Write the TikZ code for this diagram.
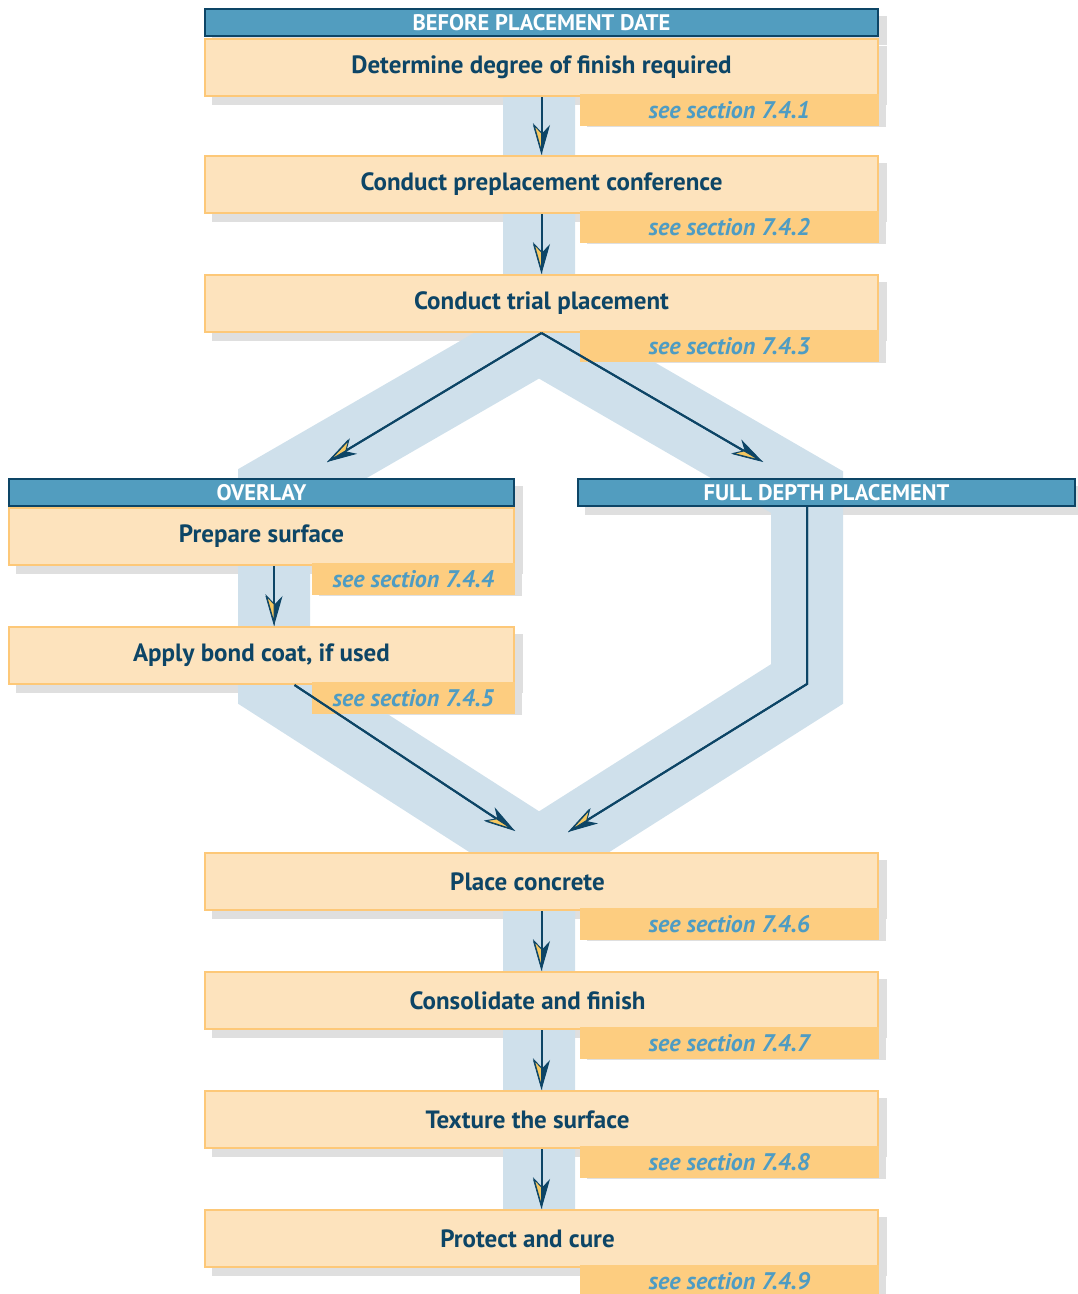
\documentclass[tikz,border=0pt]{standalone}
\usepackage{fontspec}
\setmainfont{PT Sans}
\usetikzlibrary{arrows.meta, positioning, calc}
\definecolor{colHead}{HTML}{529DBF}
\definecolor{colDark}{HTML}{0D4566}
\definecolor{colBox}{HTML}{FDE3BD}
\definecolor{colEdge}{HTML}{FDC878}
\definecolor{colTab}{HTML}{FDCD80}
\definecolor{colRef}{HTML}{4E9CC3}
\definecolor{colBand}{HTML}{CFE0EB}
\definecolor{colShade}{HTML}{DFDFDF}
\definecolor{colTip}{HTML}{F6C860}
\pgfdeclarelayer{shade}
\pgfdeclarelayer{band}
\pgfsetlayers{shade,band,main}

\begin{document}
\begin{tikzpicture}[x=1pt, y=-1pt,
    head/.style={draw=colDark, line width=2pt, fill=colHead, text=white, minimum height=27pt, inner sep=0pt, font=\fontsize{22.5}{22.5}\selectfont\bfseries},
    stepbox/.style={draw=colEdge, line width=2pt, fill=colBox, text=colDark, minimum height=57pt, inner sep=0pt, font=\fontsize{25}{25}\selectfont\bfseries},
    ref/.style={fill=colTab, text=colRef, minimum height=32pt, inner sep=0pt, font=\fontsize{24}{24}\selectfont\bfseries\itshape},
    lane/.style={draw=colBand, line width=72pt, line join=miter},
    flow/.style={draw=colDark, line width=2pt,
        -{Stealth[length=30pt, width=17pt, inset=9pt, line width=1pt, fill=colDark]},
        postaction={draw=colDark, -{Stealth[length=30pt, width=17pt, inset=9pt, line width=1pt, right, fill=colTip]}}}
]
    \useasboundingbox (0,0) rectangle (1077,1294);

    % main column: steps and their section tabs
    \foreach \n/\y/\t/\p/\s in {det/38/Determine degree of finish required/0/1,
        conf/155/Conduct preplacement conference/0/2,
        trial/274/Conduct trial placement/0/3,
        place/852/Place concrete/28/6,
        cons/971/Consolidate and finish/28/7,
        tex/1090/Texture the surface/28/8,
        cure/1209/Protect and cure/28/9} {
        \node[stepbox, minimum width=673pt, anchor=north west] (\n) at (204,\y) {\t\hspace*{\p pt}};
        \node[ref, minimum width=299pt, anchor=north east] (\n-ref) at ([yshift=3pt]\n.south east) {see section 7.4.\s};
    }
    \node[head, minimum width=673pt, anchor=north west] (before) at (204,8) {BEFORE PLACEMENT DATE};

    % overlay branch
    \node[stepbox, minimum width=505pt, anchor=north west] (prep) at (8,507) {Prepare surface};
    \node[ref, minimum width=203pt, anchor=north east] (prep-ref) at ([yshift=3pt]prep.south east) {see section 7.4.4};
    \node[stepbox, minimum width=505pt, anchor=north west] (bond) at (8,626) {Apply bond coat, if used};
    \node[ref, minimum width=203pt, anchor=north east] (bond-ref) at ([yshift=3pt]bond.south east) {see section 7.4.5};
    \node[head, minimum width=505pt, anchor=north west] (overlay) at (8,478) {OVERLAY};

    % full depth branch
    \node[head, minimum width=497pt, anchor=north west] (full) at (577,478) {FULL DEPTH PLACEMENT};

    % turning points of the lanes
    \coordinate (apex) at (539,337);
    \coordinate (bendL) at (274,490);
    \coordinate (turnL) at (274,684);
    \coordinate (bendR) at (807,492);
    \coordinate (turnR) at (807,684);
    \coordinate (meet) at (539,854);
    \coordinate (ovEnd) at (327,462);
    \coordinate (fdEnd) at (763,462);
    \coordinate (plEndL) at (515,831);
    \coordinate (plEndR) at (568,832);

    % shadows
    \begin{pgfonlayer}{shade}
        \foreach \n in {before,det,conf,trial,place,cons,tex,cure,overlay,prep,bond,full}
            \fill[colShade] ([shift={(8,8)}]\n.south west) rectangle ([shift={(8,8)}]\n.north east);
        \foreach \n in {det-ref,conf-ref,trial-ref,place-ref,cons-ref,tex-ref,cure-ref,prep-ref,bond-ref}
            \fill[colShade] ([shift={(7,1)}]\n.south west) rectangle ([shift={(7,1)}]\n.north east);
    \end{pgfonlayer}

    % light blue lanes
    \begin{pgfonlayer}{band}
        \draw[lane] (det.center -| apex) -- (apex) -- (bendL) -- (turnL) -- (meet) -- (cure.center -| meet);
        \draw[lane] (apex) -- (bendR) -- (turnR) -- (meet);
    \end{pgfonlayer}

    % arrows
    \draw[flow] (det) -- (conf);
    \draw[flow] (conf) -- (trial);
    \draw[flow] (trial.south) -- (ovEnd);
    \draw[flow] (trial.south) -- (fdEnd);
    \draw[flow] (prep.south -| turnL) -- (bond.north -| turnL);
    \draw[flow] ([xshift=33pt]bond.south) -- (plEndL);
    \draw[flow] (full.south -| turnR) -- (turnR) -- (plEndR);
    \draw[flow] (place) -- (cons);
    \draw[flow] (cons) -- (tex);
    \draw[flow] (tex) -- (cure);
\end{tikzpicture}
\end{document}
